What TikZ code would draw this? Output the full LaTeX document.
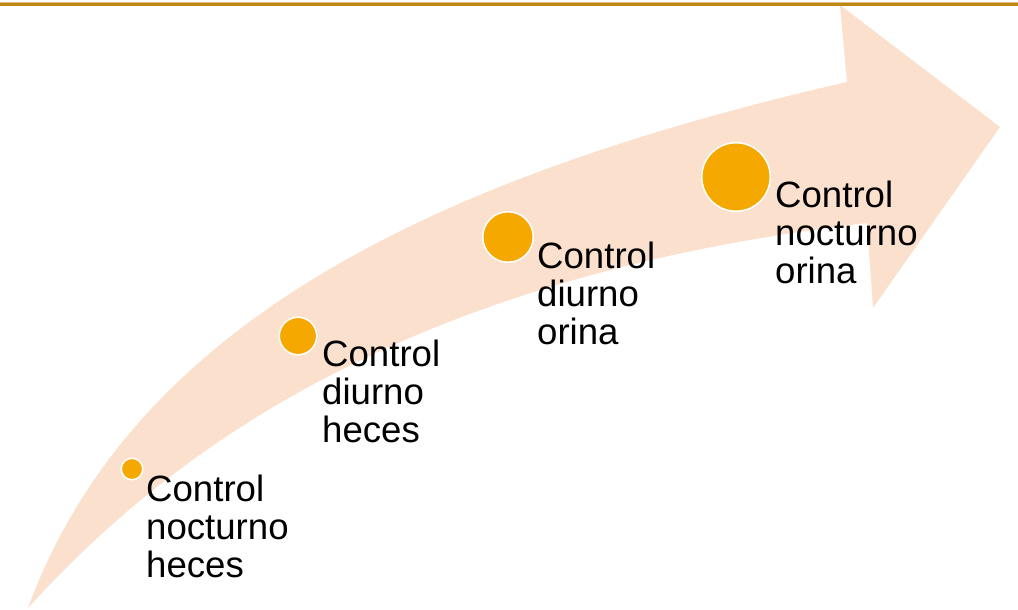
\documentclass[tikz,border=0pt]{standalone}
\usepackage{fontspec}
\setmainfont{Liberation Sans}
\usepackage{tikz}

\definecolor{peach}{RGB}{251,225,205}
\definecolor{dotorange}{RGB}{245,168,0}
\definecolor{rulegold}{RGB}{190,135,20}

\tikzset{
  dot/.style={circle, fill=dotorange, draw=white, line width=1.5pt, inner sep=0pt, minimum size=#1},
  steplabel/.style={anchor=base west, align=left, inner sep=0pt, font=\fontsize{36.6}{38}\selectfont}
}

\begin{document}
\begin{tikzpicture}[x=1pt,y=-1pt]
\useasboundingbox (0,0) rectangle (1018,610);

%Draw the curved arrow
\fill[peach] (28,608) .. controls (130,330) and (420,180) .. (847,82)
  -- (840,5) -- (1000,127) -- (873,308) -- (867,223)
  .. controls (420,275) and (180,440) .. cycle;

%Rule at the top
\draw[rulegold!55, line width=1pt] (0,3) -- (1018,3);
\draw[rulegold, line width=3pt] (0,5) -- (1018,5);

%Draw the steps
\node[dot=21.5pt] (dot1) at (132,469) {};
\node[dot=37.5pt] (dot2) at (298,336) {};
\node[dot=50.5pt] (dot3) at (508,237) {};
\node[dot=68.5pt] (dot4) at (736,177) {};

%base anchor sits on the last line
\node[steplabel] (lab1) at (146,577) {Control\\nocturno\\heces};
\node[steplabel] (lab2) at (322,442) {Control\\diurno\\heces};
\node[steplabel] (lab3) at (537,344) {Control\\diurno\\orina};
\node[steplabel] (lab4) at (775,283) {Control\\nocturno\\orina};

\end{tikzpicture}
\end{document}
